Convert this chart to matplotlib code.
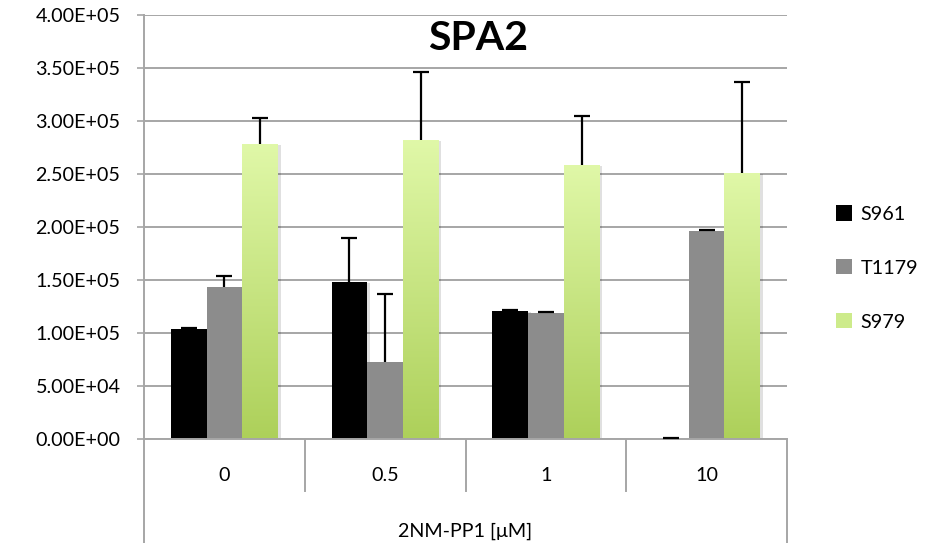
import numpy as np
import matplotlib
matplotlib.use('Agg')
import matplotlib.pyplot as plt
from matplotlib.patches import Patch
from matplotlib.transforms import blended_transform_factory
import matplotlib.patheffects as pe
from matplotlib.colors import LinearSegmentedColormap

# ---------------- data ----------------
categories = ['0', '0.5', '1', '10']
series_names = ['S961', 'T1179', 'S979']
s961 = [103500, 148400, 120800, 0]
s961_err = [1000, 41000, 1000, 800]
t1179 = [143700, 72600, 119200, 196200]
t1179_err = [10400, 64200, 700, 600]
s979 = [278300, 282000, 258500, 251000]
s979_err = [24500, 64000, 46500, 85500]
y_ticks = [0, 50000, 100000, 150000, 200000, 250000, 300000, 350000, 400000]
y_tick_labels = ['0.00E+00', '5.00E+04', '1.00E+05', '1.50E+05', '2.00E+05',
                 '2.50E+05', '3.00E+05', '3.50E+05', '4.00E+05']
title = 'SPA2'
x_label = '2NM-PP1 [\u03bcM]'

# ---------------- style ----------------
plt.rcParams['font.family'] = ['Lato', 'DejaVu Sans']
GRID = '#A6A6A6'
BLACK = '#000000'
GRAY = '#8C8C8C'
GREEN_TOP = '#E0F8A8'
GREEN_BOT = '#ADD05A'
FS = 14.2

W, H = 944, 543
fig = plt.figure(figsize=(W / 100, H / 100), dpi=100)
ax = fig.add_axes([144 / W, 104 / H, 643 / W, 424 / H])

x = np.arange(len(categories))
bw = 1 / 4.5
offsets = [-bw, 0, bw]
vals = [s961, t1179, s979]
errs = [s961_err, t1179_err, s979_err]
colors = [BLACK, GRAY, '#CDEB8B']

shadow = [pe.SimplePatchShadow(offset=(2, -1), shadow_rgbFace='#000000', alpha=0.12), pe.Normal()]

cmap = LinearSegmentedColormap.from_list('g', [GREEN_BOT, GREEN_TOP])
grad = np.linspace(0, 1, 256).reshape(-1, 1)

for i in range(3):
    bars = ax.bar(x + offsets[i], vals[i], bw, color=colors[i], linewidth=0, zorder=2)
    for b in bars:
        b.set_path_effects(shadow)
    if i == 2:
        for b in bars:
            x0, y0 = b.get_x(), b.get_y()
            im = ax.imshow(grad, cmap=cmap, origin='lower', aspect='auto',
                           extent=[x0, x0 + b.get_width(), y0, y0 + b.get_height()],
                           zorder=2.1, interpolation='bilinear')
            im.set_clip_path(b)
    eb = ax.errorbar(x + offsets[i], vals[i], yerr=[np.zeros(len(x)), errs[i]], fmt='none',
                     ecolor='black', elinewidth=1.6, capsize=6, capthick=1.6, zorder=3)
    # keep only the upper caps
    for cl in eb[1]:
        if np.allclose(np.asarray(cl.get_ydata(), float), np.asarray(vals[i], float)):
            cl.set_visible(False)

ax.set_xlim(-0.5, len(categories) - 0.5)
ax.set_ylim(0, 400000)
ax.set_yticks(y_ticks)
ax.set_yticklabels(y_tick_labels)
ax.set_xticks(x)
ax.set_xticklabels(categories)

ax.yaxis.grid(True, color=GRID, linewidth=1.4)
ax.set_axisbelow(True)
for s in ['top', 'right']:
    ax.spines[s].set_visible(False)
for s in ['left', 'bottom']:
    ax.spines[s].set_color(GRID)
    ax.spines[s].set_linewidth(1.4)

ax.tick_params(axis='y', direction='out', length=5, width=1.2, color=GRID,
               pad=12, labelsize=FS, labelcolor='black')
ax.tick_params(axis='x', length=0, pad=20, labelsize=FS, labelcolor='black')

# multi-level category axis frame
trans = blended_transform_factory(ax.transData, ax.transAxes)
for xd in x[:-1] + 0.5:
    ax.plot([xd, xd], [0, -52 / 424], transform=trans, clip_on=False,
            color=GRID, linewidth=1.4)
for xd in [-0.5, len(categories) - 0.5]:
    ax.plot([xd, xd], [0, -104 / 424], transform=trans, clip_on=False,
            color=GRID, linewidth=1.4)

ax.set_xlabel(x_label, fontsize=FS)
ax.xaxis.set_label_coords(0.5, -0.197)

ax.text(0.52, 0.945, title, transform=ax.transAxes, ha='center', va='center',
        fontsize=29.5, fontweight='bold')

handles = [Patch(facecolor=BLACK), Patch(facecolor=GRAY), Patch(facecolor='#CDEB8B')]
fig.legend(handles, series_names, loc='center left', bbox_to_anchor=(836 / W, (H - 268) / H),
           frameon=False, fontsize=FS, handlelength=0.8, handleheight=0.8,
           handletextpad=0.45, labelspacing=1.85, borderpad=0, borderaxespad=0)

fig.savefig('out.png', dpi=100)
